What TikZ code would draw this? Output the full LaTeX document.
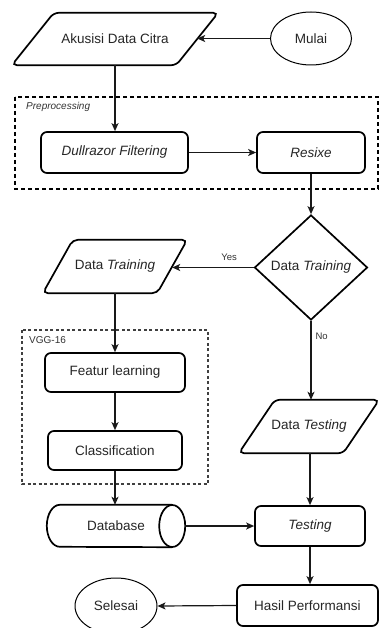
\documentclass[tikz,border=0pt]{standalone}
\usepackage{fontspec}
\setmainfont{Liberation Sans}
\usetikzlibrary{shapes.geometric,arrows.meta,calc}

\tikzset{
  x=1pt, y=-1pt,
  txt/.style={text=black!85, font=\fontsize{13.5}{16}\selectfont, inner sep=0pt},
  shapeline/.style={draw=black, line width=1.7pt},
  procbox/.style={txt, shapeline, rounded corners=6pt},
  iobox/.style={txt, draw=none},
  decision/.style={txt, shapeline, diamond, inner sep=0pt},
  terminal/.style={txt, draw=black, line width=1pt, ellipse, inner sep=0pt},
  flow/.style={draw=black!90, line width=1.2pt, -{Stealth[length=8pt,width=7pt,inset=2pt]}},
  groupbox/.style={line width=1.2pt},
  smalltxt/.style={text=black!80, font=\fontsize{10}{12}\selectfont, inner sep=0pt},
}

% parallelogram frame drawn round a text node; #2 is the horizontal slant
\newcommand\slantframe[2]{%
  \draw[shapeline, rounded corners=5pt]
    ($(#1.north west)+(#2/2,0)$) -- ($(#1.north east)+(#2/2,0)$) --
    ($(#1.south east)-(#2/2,0)$) -- ($(#1.south west)-(#2/2,0)$) -- cycle;}

\begin{document}
\begin{tikzpicture}
\useasboundingbox[fill=white] (0,0) rectangle (379,628);

% grouping frames
\draw[groupbox, dash pattern=on 4pt off 3pt] (15,97) rectangle (378,189);
\node[smalltxt, anchor=west] (prelbl) at (26,107) {\itshape Preprocessing};
\draw[groupbox, draw=black!75, dash pattern=on 3pt off 2.5pt] (22,330) rectangle (208,484);
\node[smalltxt, anchor=west] (vgglbl) at (29,340) {VGG-16};

% terminals
\node[terminal, minimum width=81pt, minimum height=53pt] (mulai) at (311,38.5) {Mulai};
\node[terminal, minimum width=82pt, minimum height=56pt] (selesai) at (116,606) {Selesai};

% input/output blocks
\node[iobox, minimum width=164pt, minimum height=52pt] (akuisisi) at (115,39) {Akusisi Data Citra};
\slantframe{akuisisi}{42}
\node[iobox, minimum width=114pt, minimum height=53pt] (dtrain) at (115,266.5) {Data \textit{Training}};
\slantframe{dtrain}{30}
\node[iobox, minimum width=104pt, minimum height=53pt] (dtest) at (309,426.5) {Data \textit{Testing}};
\slantframe{dtest}{36}

% process blocks
\node[procbox, minimum width=147pt, minimum height=41pt] (dull) at (114.5,152.5) {\textit{Dullrazor Filtering}};
\node[procbox, minimum width=108pt, minimum height=41pt] (resize) at (311,152.5) {\textit{Resixe}};
\node[procbox, minimum width=140pt, minimum height=39pt] (featur) at (115,372.5) {Featur learning};
\node[procbox, minimum width=134pt, minimum height=39pt] (classif) at (115,450.5) {Classification};
\node[procbox, minimum width=110pt, minimum height=40pt] (testing) at (310,526) {\textit{Testing}};
\node[procbox, minimum width=141pt, minimum height=41pt] (hasil) at (307.5,605.5) {Hasil Performansi};

% decision
\node[decision, minimum width=113pt, minimum height=105pt] (decide) at (311,267.5) {Data \textit{Training}};

% database cylinder lying on its side
\node[iobox, minimum width=138pt, minimum height=42pt] (db) at (116,526) {Database};
\draw[shapeline]
  ($(db.north east)+(-13,0)$) -- ($(db.north west)+(13,0)$)
  arc[start angle=90, end angle=270, x radius=13pt, y radius=21pt]
  -- ($(db.south east)+(-13,0)$);
\draw[shapeline] ($(db.east)+(-13,0)$) ellipse[x radius=13pt, y radius=21pt];

% connectors
\draw[flow] (mulai.west) -- (mulai.west -| akuisisi.east);
\draw[flow] (akuisisi.south) -- (akuisisi.south |- dull.north);
\draw[flow] (dull.east) -- (resize.west);
\draw[flow] (resize.south) -- (decide.north);
\draw[flow] (decide.west) -- (decide.west -| dtrain.east)
  node[pos=0.3, above=6pt, smalltxt, font=\fontsize{9.5}{11}\selectfont] (yeslbl) {Yes};
\draw[flow] (decide.south) -- (decide.south |- dtest.north)
  node[pos=0.2, right=4pt, smalltxt, font=\fontsize{9.5}{11}\selectfont] (nolbl) {No};
\draw[flow] (dtrain.south) -- (dtrain.south |- featur.north);
\draw[flow] (featur.south) -- (featur.south |- classif.north);
\draw[flow] (classif.south) -- (classif.south |- db.north);
\draw[flow] (db.east) -- (testing.west);
\draw[flow] (dtest.south -| testing.north) -- (testing.north);
\draw[flow] (testing.south) -- (testing.south |- hasil.north);
\draw[flow] (hasil.west) -- (selesai.east);
\end{tikzpicture}
\end{document}
